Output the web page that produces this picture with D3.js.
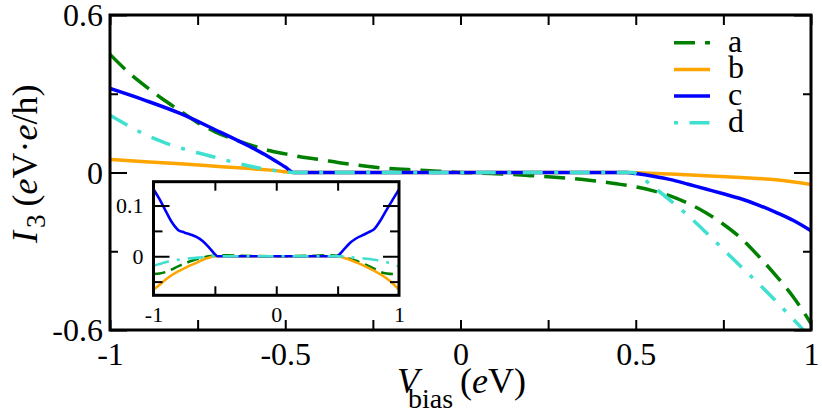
<!DOCTYPE html>
<html><head><meta charset="utf-8">
<script src="https://cdn.jsdelivr.net/npm/d3@7"></script>
<style>
body{margin:0;background:#fff}
svg{display:block}
</style>
</head><body>
<svg id="c" width="822" height="412" font-family="Liberation Serif"></svg>
<script>
// ---------- data (main panel) ----------
const seriesNames = ["a", "b", "c", "d"];
const aV = [-1,-0.95,-0.9,-0.85,-0.8,-0.75,-0.7,-0.65,-0.6,-0.55,-0.5,-0.45,-0.4,-0.35,-0.3,-0.25,-0.2,-0.15,-0.1,-0.05,0,0.05,0.1,0.15,0.2,0.25,0.3,0.35,0.4,0.45,0.5,0.55,0.6,0.65,0.7,0.75,0.8,0.85,0.9,0.95,1];
const aI = [0.45,0.385,0.33,0.28,0.235,0.19,0.155,0.128,0.105,0.085,0.071,0.058,0.049,0.038,0.029,0.021,0.015,0.011,0.008,0.004,0,-0.002,-0.005,-0.008,-0.012,-0.016,-0.021,-0.027,-0.035,-0.044,-0.055,-0.07,-0.09,-0.118,-0.153,-0.197,-0.25,-0.318,-0.393,-0.475,-0.575];
const bV = [-1,-0.9,-0.8,-0.7,-0.6,-0.55,-0.5,-0.48,0,0.475,0.5,0.6,0.7,0.8,0.9,1];
const bI = [0.05,0.041,0.033,0.024,0.015,0.010,0.003,0,0,0,-0.001,-0.006,-0.012,-0.019,-0.028,-0.046];
const cV = [-1,-0.9,-0.8,-0.7,-0.6,-0.55,-0.5,-0.475,0,0.475,0.5,0.55,0.6,0.65,0.7,0.75,0.8,0.85,0.9,0.95,1];
const cI = [0.32,0.275,0.225,0.163,0.098,0.062,0.021,0,0,0,-0.004,-0.014,-0.027,-0.045,-0.063,-0.081,-0.100,-0.124,-0.152,-0.183,-0.222];
const dV = [-1,-0.95,-0.9,-0.85,-0.8,-0.75,-0.7,-0.65,-0.6,-0.55,-0.5,-0.48,0,0.49,0.55,0.6,0.65,0.7,0.75,0.8,0.85,0.9,0.95,1];
const dI = [0.218,0.18,0.145,0.117,0.094,0.075,0.058,0.04,0.024,0.011,0.003,0,0,0,-0.055,-0.108,-0.165,-0.228,-0.293,-0.358,-0.423,-0.49,-0.56,-0.63];

// ---------- data (inset) ----------
const iaV = [-1,-0.95,-0.9,-0.85,-0.8,-0.75,-0.7,-0.65,-0.6,-0.55,-0.5,-0.4,-0.3,0,0.3,0.4,0.5,0.55,0.6,0.65,0.7,0.75,0.8,0.85,0.9,0.95,1];
const iaI = [-0.035,-0.034,-0.031,-0.026,-0.02,-0.015,-0.01,-0.006,-0.003,0,0.001,0.002,0.001,0,0.001,0.002,0.001,-0.001,-0.005,-0.009,-0.014,-0.019,-0.025,-0.031,-0.034,-0.035,-0.035];
const ibV = [-1,-0.95,-0.9,-0.85,-0.8,-0.75,-0.7,-0.65,-0.6,-0.55,-0.5,0,0.5,0.55,0.6,0.65,0.7,0.75,0.8,0.85,0.9,0.95,1];
const ibI = [-0.066,-0.056,-0.046,-0.037,-0.030,-0.024,-0.018,-0.013,-0.007,-0.003,0,0,0,-0.003,-0.007,-0.012,-0.017,-0.023,-0.029,-0.036,-0.044,-0.054,-0.066];
const icV = [-1,-0.95,-0.9,-0.85,-0.8,-0.75,-0.7,-0.65,-0.6,-0.55,-0.5,-0.48,0,0.49,0.55,0.6,0.65,0.7,0.75,0.8,0.85,0.9,0.95,1];
const icI = [0.132,0.112,0.089,0.067,0.052,0.047,0.043,0.038,0.030,0.018,0.004,0,0,0,0.013,0.026,0.035,0.041,0.047,0.054,0.071,0.092,0.112,0.132];
const idV = [-1,-0.9,-0.8,-0.7,-0.6,-0.5,0,0.5,0.6,0.7,0.8,0.9,1];
const idI = [-0.019,-0.012,-0.007,-0.004,-0.002,0,0,0,-0.002,-0.004,-0.007,-0.012,-0.02];

// ---------- ticks ----------
const xTicksMain = [-1,-0.75,-0.5,-0.25,0,0.25,0.5,0.75,1];
const xLabelsMain = [-1,-0.5,0,0.5,1];
const yMajorMain = [-0.6,0,0.6];
const yMinorMain = [-0.3,0.3];
const xTicksInset = [-0.5,0,0.5];
const xLabelsInset = [-1,0,1];
const yMajorInset = [0,0.1];
const yMinorInset = [-0.05,0.05];

const colors = {a:"#008000", b:"#ffa500", c:"#0000ff", d:"#40e0d0"};
const dashMain = {a:"21,10", b:null, c:null, d:"20,11.5,4,11.5"};
const dashInset = {a:"12,6", b:null, c:null, d:"16,8,3,8"};
const SERIF = '"Liberation Serif", "Times New Roman", Times, serif';

const svg = d3.select("#c");
const fmt = d => String(d);

// ---------- main panel ----------
const L=110, R=811, T=15, B=330;
const x = d3.scaleLinear().domain([-1,1]).range([L,R]);
const y = d3.scaleLinear().domain([-0.6,0.6]).range([B,T]);

svg.append("clipPath").attr("id","clipMain").append("rect")
  .attr("x",L).attr("y",T).attr("width",R-L).attr("height",B-T);

const mainData = {a:[aV,aI], b:[bV,bI], c:[cV,cI], d:[dV,dI]};
const line = d3.line().x(d=>x(d[0])).y(d=>y(d[1])).curve(d3.curveMonotoneX);
const gCurves = svg.append("g").attr("clip-path","url(#clipMain)");
seriesNames.forEach(k=>{
  const [vs,is] = mainData[k];
  gCurves.append("path").datum(vs.map((v,i)=>[v,is[i]]))
    .attr("d",line).attr("fill","none").attr("stroke",colors[k])
    .attr("stroke-width",3.5).attr("stroke-dasharray",dashMain[k]);
});

function styleAxis(g, fs){
  g.attr("font-family", null).attr("font-size", null);
  g.select(".domain").remove();
  g.selectAll(".tick line").attr("stroke","#000").attr("stroke-width",2);
  g.selectAll(".tick text").attr("font-size",fs).attr("fill","#000").attr("font-family","Liberation Serif");
}
// bottom x ticks + labels
let g = svg.append("g").attr("transform",`translate(0,${B})`)
  .call(d3.axisBottom(x).tickValues(xTicksMain).tickSize(-10).tickPadding(12)
    .tickFormat(d=>xLabelsMain.includes(d)?fmt(d):""));
styleAxis(g,32);
g = svg.append("g").attr("transform",`translate(0,${T})`)
  .call(d3.axisTop(x).tickValues(xTicksMain).tickSize(-10).tickFormat(""));
styleAxis(g,32);
// y ticks
g = svg.append("g").attr("transform",`translate(${L},0)`)
  .call(d3.axisLeft(y).tickValues(yMajorMain).tickSize(-17).tickPadding(7).tickFormat(fmt));
styleAxis(g,32);
g.selectAll(".tick text").attr("dy","0.33em");
g = svg.append("g").attr("transform",`translate(${L},0)`)
  .call(d3.axisLeft(y).tickValues(yMinorMain).tickSize(-8).tickFormat(""));
styleAxis(g,32);
g = svg.append("g").attr("transform",`translate(${R},0)`)
  .call(d3.axisRight(y).tickValues(yMajorMain).tickSize(-17).tickFormat(""));
styleAxis(g,32);
g = svg.append("g").attr("transform",`translate(${R},0)`)
  .call(d3.axisRight(y).tickValues(yMinorMain).tickSize(-8).tickFormat(""));
styleAxis(g,32);

svg.append("rect").attr("x",L).attr("y",T).attr("width",R-L).attr("height",B-T)
  .attr("fill","none").attr("stroke","#000").attr("stroke-width",3);

// legend
seriesNames.forEach((k,i)=>{
  const ly = 42.7 + i*26.7;
  svg.append("line").attr("x1",674).attr("x2",710).attr("y1",ly).attr("y2",ly)
    .attr("stroke",colors[k]).attr("stroke-width",3.5)
    .attr("stroke-dasharray",dashMain[k])
    .attr("stroke-dashoffset", k==="d" ? 31.5 : 0);
  svg.append("text").attr("x",728).attr("y",ly+9).attr("font-size",32).text(k);
});

// axis titles
const xt = svg.append("text").attr("y",393).attr("font-size",36);
xt.append("tspan").attr("x",397).attr("font-style","italic").text("V");
xt.append("tspan").attr("x",408).attr("dy",15).attr("font-size",28).text("bias");
xt.append("tspan").attr("x",460).attr("dy",-15).text("(");
xt.append("tspan").attr("font-style","italic").text("e");
xt.append("tspan").text("V)");

const yt = svg.append("text").attr("transform","translate(37,243) rotate(-90)").attr("font-size",36);
yt.append("tspan").attr("x",0).attr("font-style","italic").text("I");
yt.append("tspan").attr("dx",3).attr("dy",8).attr("font-size",27).text("3");
yt.append("tspan").attr("dx",8).attr("dy",-8).text("(");
yt.append("tspan").attr("font-style","italic").text("e");
yt.append("tspan").text("V·");
yt.append("tspan").attr("font-style","italic").text("e");
yt.append("tspan").text("/h)");

// ---------- inset ----------
const iL=153.5, iR=399, iT=181.7, iB=295.3;
const xi = d3.scaleLinear().domain([-1,1]).range([iL,iR]);
const yi = d3.scaleLinear().domain([-0.077,0.147]).range([iB,iT]);

svg.append("rect").attr("x",iL).attr("y",iT).attr("width",iR-iL).attr("height",iB-iT)
  .attr("fill","#fff").attr("stroke","none");
svg.append("clipPath").attr("id","clipInset").append("rect")
  .attr("x",iL).attr("y",iT).attr("width",iR-iL).attr("height",iB-iT);
const insetData = {a:[iaV,iaI], b:[ibV,ibI], c:[icV,icI], d:[idV,idI]};
const iline = d3.line().x(d=>xi(d[0])).y(d=>yi(d[1])).curve(d3.curveMonotoneX);
const gi = svg.append("g").attr("clip-path","url(#clipInset)");
seriesNames.forEach(k=>{
  const [vs,is] = insetData[k];
  gi.append("path").datum(vs.map((v,i)=>[v,is[i]]))
    .attr("d",iline).attr("fill","none").attr("stroke",colors[k])
    .attr("stroke-width",2.6).attr("stroke-dasharray",dashInset[k]);
});

g = svg.append("g").attr("transform",`translate(0,${iB})`)
  .call(d3.axisBottom(xi).tickValues(xTicksInset).tickSize(-9).tickFormat(""));
styleAxis(g,22);
g = svg.append("g").attr("transform",`translate(0,${iB})`)
  .call(d3.axisBottom(xi).tickValues(xLabelsInset).tickSize(0).tickPadding(11).tickFormat(fmt));
styleAxis(g,22);
g = svg.append("g").attr("transform",`translate(0,${iT})`)
  .call(d3.axisTop(xi).tickValues(xTicksInset).tickSize(-9).tickFormat(""));
styleAxis(g,22);
g = svg.append("g").attr("transform",`translate(${iL},0)`)
  .call(d3.axisLeft(yi).tickValues(yMajorInset).tickSize(-16).tickPadding(10).tickFormat(fmt));
styleAxis(g,22);
g.selectAll(".tick text").attr("dy","0.33em");
g = svg.append("g").attr("transform",`translate(${iL},0)`)
  .call(d3.axisLeft(yi).tickValues(yMinorInset).tickSize(-9).tickFormat(""));
styleAxis(g,22);
g = svg.append("g").attr("transform",`translate(${iR},0)`)
  .call(d3.axisRight(yi).tickValues(yMajorInset).tickSize(-16).tickFormat(""));
styleAxis(g,22);
g = svg.append("g").attr("transform",`translate(${iR},0)`)
  .call(d3.axisRight(yi).tickValues(yMinorInset).tickSize(-9).tickFormat(""));
styleAxis(g,22);

svg.append("rect").attr("x",iL).attr("y",iT).attr("width",iR-iL).attr("height",iB-iT)
  .attr("fill","none").attr("stroke","#000").attr("stroke-width",3);

// serif font everywhere
svg.selectAll("text").attr("font-family","Liberation Serif").style("font-family", SERIF).style("fill","#000");
</script>
</body></html>
